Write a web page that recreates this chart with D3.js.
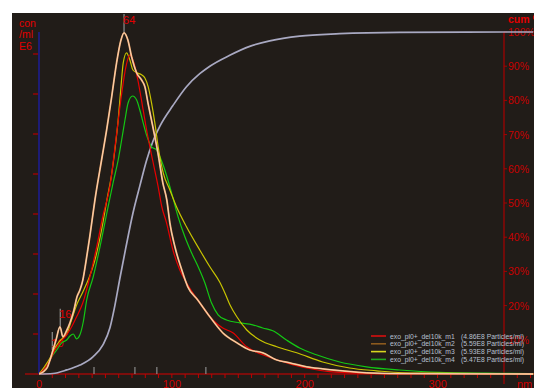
<!DOCTYPE html>
<html>
<head>
<meta charset="utf-8">
<script src="https://cdn.jsdelivr.net/npm/d3@7"></script>
<style>
  html, body { margin: 0; padding: 0; background: #fff; }
  svg { display: block; font-family: "Liberation Sans", Arial, sans-serif; }
</style>
</head>
<body>
<svg id="chart" width="534" height="388"></svg>
<script>
// size (nm) / concentration (E6 particles/ml) pairs
const m1 = [[0,0],[4.5,0.15],[8.3,0.35],[12,0.6],[15.8,0.78],[20.8,0.98],[24.6,1.18],[28.3,1.43],[33,1.78],[38.3,2.43],[43.4,3.18],[48.1,3.95],[53.4,4.7],[58.4,6.0],[62.2,7.0],[65.4,7.68],[68.4,7.98],[71.4,7.78],[74.4,7.35],[78,6.68],[81.4,6.03],[85.5,5.35],[89.7,4.68],[92.3,4.2],[96,3.78],[100.8,3.1],[106,2.6],[111,2.28],[121,1.78],[130.8,1.35],[138.3,1.15],[145.9,1.03],[156.4,0.68],[168.4,0.48],[186.5,0.28],[201.5,0.15],[218.8,0.06],[233.8,0.03],[256,0.01],[372,0]];
const m2 = [[0,0],[6,0.15],[8.3,0.35],[10.5,0.6],[12.8,0.85],[15.8,1.18],[18,0.93],[21,1.1],[23.3,1.28],[26.3,1.6],[28.6,1.93],[30.8,2.1],[33,2.35],[35.3,2.8],[38.3,3.45],[42.1,4.35],[47.1,5.35],[50.9,6.1],[54.7,6.93],[58.4,7.78],[61.7,8.35],[64,8.53],[66.9,8.35],[69.7,7.93],[73.5,7.53],[77.2,7.35],[79.7,7.18],[82,6.78],[85.7,6.18],[89.5,5.53],[93.2,4.78],[96.2,4.35],[98.5,3.78],[102.3,3.18],[107.5,2.6],[112,2.18],[119.5,1.85],[128.6,1.43],[138.3,1.03],[148.9,0.78],[158.6,0.6],[168.4,0.53],[179,0.35],[188.7,0.28],[201.5,0.18],[213.5,0.13],[228.6,0.08],[246.6,0.03],[271,0.01],[372,0]];
const m3 = [[0,0],[4.5,0.2],[8.3,0.4],[12,0.65],[15,0.8],[18,0.9],[21,1.0],[24,1.3],[28.6,1.75],[33,2.05],[37.6,2.4],[42.1,2.85],[47.4,3.65],[51.1,4.35],[54.7,5.0],[57.1,5.6],[59.6,6.35],[61.7,7.18],[63.4,7.78],[65.9,8.03],[68.4,7.85],[70.7,7.6],[73.7,7.53],[77.2,7.48],[79.7,7.4],[82.2,7.18],[84.7,6.78],[87.2,6.28],[89.7,5.68],[93.5,5.03],[98.5,4.6],[103.5,4.18],[111,3.68],[121,3.1],[128.6,2.68],[136,2.3],[140,2.02],[143.6,1.74],[148.9,1.43],[156.4,1.1],[166.2,0.85],[179,0.68],[194,0.53],[213.5,0.3],[233.8,0.15],[254,0.08],[273.7,0.03],[294,0.02],[372,0]];
const m4 = [[0,0],[5.8,0.23],[9.5,0.43],[13.3,0.6],[17.1,0.78],[20.8,0.85],[23.3,0.95],[25.8,1.0],[28.3,0.88],[30.8,0.98],[33.3,1.3],[35.9,1.85],[40.8,2.43],[45.9,3.18],[50.9,4.0],[55.9,4.8],[59.6,5.35],[62.2,5.85],[64.7,6.35],[67.1,6.78],[70.4,6.95],[73.5,6.85],[75.9,6.6],[78.4,6.28],[81.4,5.93],[84.7,5.68],[88.5,5.6],[91,5.43],[94.7,5.1],[99.8,4.53],[104.7,3.93],[109.8,3.43],[114.8,3.03],[119.8,2.68],[124.8,2.28],[129.8,1.78],[134.8,1.48],[141.1,1.35],[151.1,1.28],[160.9,1.23],[168.4,1.15],[176,1.08],[186.2,0.85],[196.2,0.65],[208.8,0.48],[226.3,0.3],[246.4,0.18],[271.4,0.1],[301.5,0.04],[336.8,0.02],[372,0.01]];
// cumulative %, right axis
const cum = [[0,0],[10.5,0.15],[21,1.2],[30.8,2.6],[40.6,5.0],[48.1,8.5],[53.4,13.5],[57.1,20],[60.9,28],[65.4,37],[70.7,47],[75.9,55],[81,62.5],[85.7,68],[91,72.5],[100.8,78.5],[111,84],[121,87.8],[128.6,90],[143.6,93.2],[158.6,95.8],[173.7,97.4],[196.2,98.8],[226.3,99.5],[271.4,99.9],[350,100],[372,100]];

const seriesNames = ["exo_pl0+_del10k_m1", "exo_pl0+_del10k_m2", "exo_pl0+_del10k_m3", "exo_pl0+_del10k_m4"];
const seriesTotals = ["(4.86E8 Particles/ml)", "(5.59E8 Particles/ml)", "(5.93E8 Particles/ml)", "(5.47E8 Particles/ml)"];
const xTickLabels = [0, 100, 200, 300];
const cumTicks = [10, 20, 30, 40, 50, 60, 70, 80, 90, 100];
const leftTicks = [1, 2, 3, 4, 5, 6, 7, 8];
// labelled peaks [nm, conc] and small unlabelled peak marks
const bigPeaks = [[64, 8.53], [16, 1.18], [10, 0.6]];
const smallPeaks = [41.4, 72.2, 88.7, 125.6];

const svg = d3.select('#chart');
const W = 534, H = 388;

const x = d3.scaleLinear().domain([0, 350]).range([39, 504]);
const y = d3.scaleLinear().domain([0, 8.55]).range([374, 32]);
const yc = d3.scaleLinear().domain([0, 100]).range([374, 32]);

// dark plot background
svg.append('rect').attr('x', 12).attr('y', 13).attr('width', W - 12).attr('height', H - 13).attr('fill', '#211c18');

svg.append('defs').append('clipPath').attr('id', 'plot')
    .append('rect').attr('x', 39).attr('y', 13).attr('width', W - 39).attr('height', 362);

// x axis
const xAxis = svg.append('g');
xAxis.append('line').attr('x1', 25).attr('x2', W).attr('y1', 374).attr('y2', 374)
    .attr('stroke', '#d80000').attr('stroke-width', 1.2);
xAxis.selectAll('line.tick').data(d3.range(10, 380, 10)).enter().append('line')
    .attr('class', 'tick')
    .attr('x1', d => x(d)).attr('x2', d => x(d)).attr('y1', 374).attr('y2', 378)
    .attr('stroke', '#c00000');
xAxis.selectAll('text').data(xTickLabels).enter().append('text')
    .attr('x', d => x(d)).attr('y', 388).attr('text-anchor', 'middle')
    .attr('fill', '#d00000').style('font-size', '11px').text(d => d);
xAxis.append('text').attr('x', 517).attr('y', 388).attr('fill', '#d00000')
    .style('font-size', '11px').text('nm');

// left axis
const lAxis = svg.append('g');
lAxis.append('line').attr('x1', 39).attr('x2', 39).attr('y1', 32).attr('y2', 374)
    .attr('stroke', '#1c1c96').attr('stroke-width', 1.5);
lAxis.selectAll('line.tick').data(leftTicks).enter().append('line')
    .attr('class', 'tick')
    .attr('x1', 33).attr('x2', 38).attr('y1', d => y(d)).attr('y2', d => y(d))
    .attr('stroke', '#b00000').attr('stroke-width', 1.2);
lAxis.selectAll('text').data(['con', '/ml', 'E6']).enter().append('text')
    .attr('x', 19).attr('y', (d, i) => 27 + i * 11.3)
    .attr('fill', '#e00000').style('font-size', '10.5px').text(d => d);

// right axis
const rAxis = svg.append('g');
rAxis.append('line').attr('x1', 504).attr('x2', 504).attr('y1', 32).attr('y2', 384)
    .attr('stroke', '#a80000').attr('stroke-width', 1.2);
rAxis.selectAll('line.tick').data(cumTicks).enter().append('line')
    .attr('class', 'tick')
    .attr('x1', 504).attr('x2', 507).attr('y1', d => yc(d)).attr('y2', d => yc(d))
    .attr('stroke', '#a80000');
rAxis.selectAll('text').data(cumTicks).enter().append('text')
    .attr('x', 508).attr('y', d => yc(d) + 4)
    .attr('fill', '#c80000').style('font-size', '10.5px').text(d => d + '%');
rAxis.append('text').attr('x', 508).attr('y', 23).attr('fill', '#e00000')
    .style('font-size', '10.5px').style('font-weight', 'bold').text('cum %');

// peak markers
const marks = svg.append('g');
marks.selectAll('line.small').data(smallPeaks).enter().append('line')
    .attr('x1', d => x(d)).attr('x2', d => x(d)).attr('y1', 367).attr('y2', 374)
    .attr('stroke', '#8a8a8a').attr('stroke-width', 1.2);
marks.selectAll('line.big').data(bigPeaks).enter().append('line')
    .attr('x1', d => x(d[0])).attr('x2', d => x(d[0]))
    .attr('y1', (d, i) => i === 0 ? 14 : y(d[1]) - 18).attr('y2', d => y(d[1]))
    .attr('stroke', '#909090').attr('stroke-width', 1.2);

const line = d3.line().x(d => x(d[0])).y(d => y(d[1])).curve(d3.curveMonotoneX);
const cumLine = d3.line().x(d => x(d[0])).y(d => yc(d[1])).curve(d3.curveMonotoneX);

const plot = svg.append('g').attr('clip-path', 'url(#plot)');
plot.append('path').datum(cum).attr('d', cumLine).attr('fill', 'none')
    .attr('stroke', '#a9a9c2').attr('stroke-width', 1.7);
plot.append('path').datum(m4).attr('d', line).attr('fill', 'none')
    .attr('stroke', '#14c814').attr('stroke-width', 1.2);
plot.append('path').datum(m3).attr('d', line).attr('fill', 'none')
    .attr('stroke', '#c8c400').attr('stroke-width', 1.2);
plot.append('path').datum(m1).attr('d', line).attr('fill', 'none')
    .attr('stroke', '#e80000').attr('stroke-width', 1.2);
plot.append('path').datum(m2).attr('d', line).attr('fill', 'none')
    .attr('stroke', '#eea468').attr('stroke-width', 1.8);
plot.append('path').datum(m2).attr('d', line).attr('fill', 'none')
    .attr('stroke', '#fff0e2').attr('stroke-width', 0.6);

// peak labels
marks.selectAll('text').data(bigPeaks).enter().append('text')
    .attr('x', d => x(d[0]) - 1)
    .attr('y', (d, i) => i === 0 ? 24 : y(d[1]) - 3 - (i === 1 ? 6 : 0))
    .attr('fill', '#e00000').style('font-size', '11px')
    .text(d => d[0]);

// legend
const legendColors = ['#d81010', '#8c5a1e', '#d8d420', '#20a820'];
const legend = svg.append('g').attr('transform', 'translate(371,336)');
const row = legend.selectAll('g').data(seriesNames).enter().append('g')
    .attr('transform', (d, i) => `translate(0,${i * 7.8})`);
row.append('line').attr('x1', 0).attr('x2', 15).attr('y1', 0).attr('y2', 0)
    .attr('stroke', (d, i) => legendColors[i]).attr('stroke-width', 1.6);
row.append('text').attr('x', 19).attr('y', 2.5).attr('fill', '#b8c0d0')
    .style('font-size', '6.8px').text(d => d);
row.append('text').attr('x', 90).attr('y', 2.5).attr('fill', '#b8c0d0')
    .style('font-size', '6.8px').text((d, i) => seriesTotals[i]);
</script>
</body>
</html>
